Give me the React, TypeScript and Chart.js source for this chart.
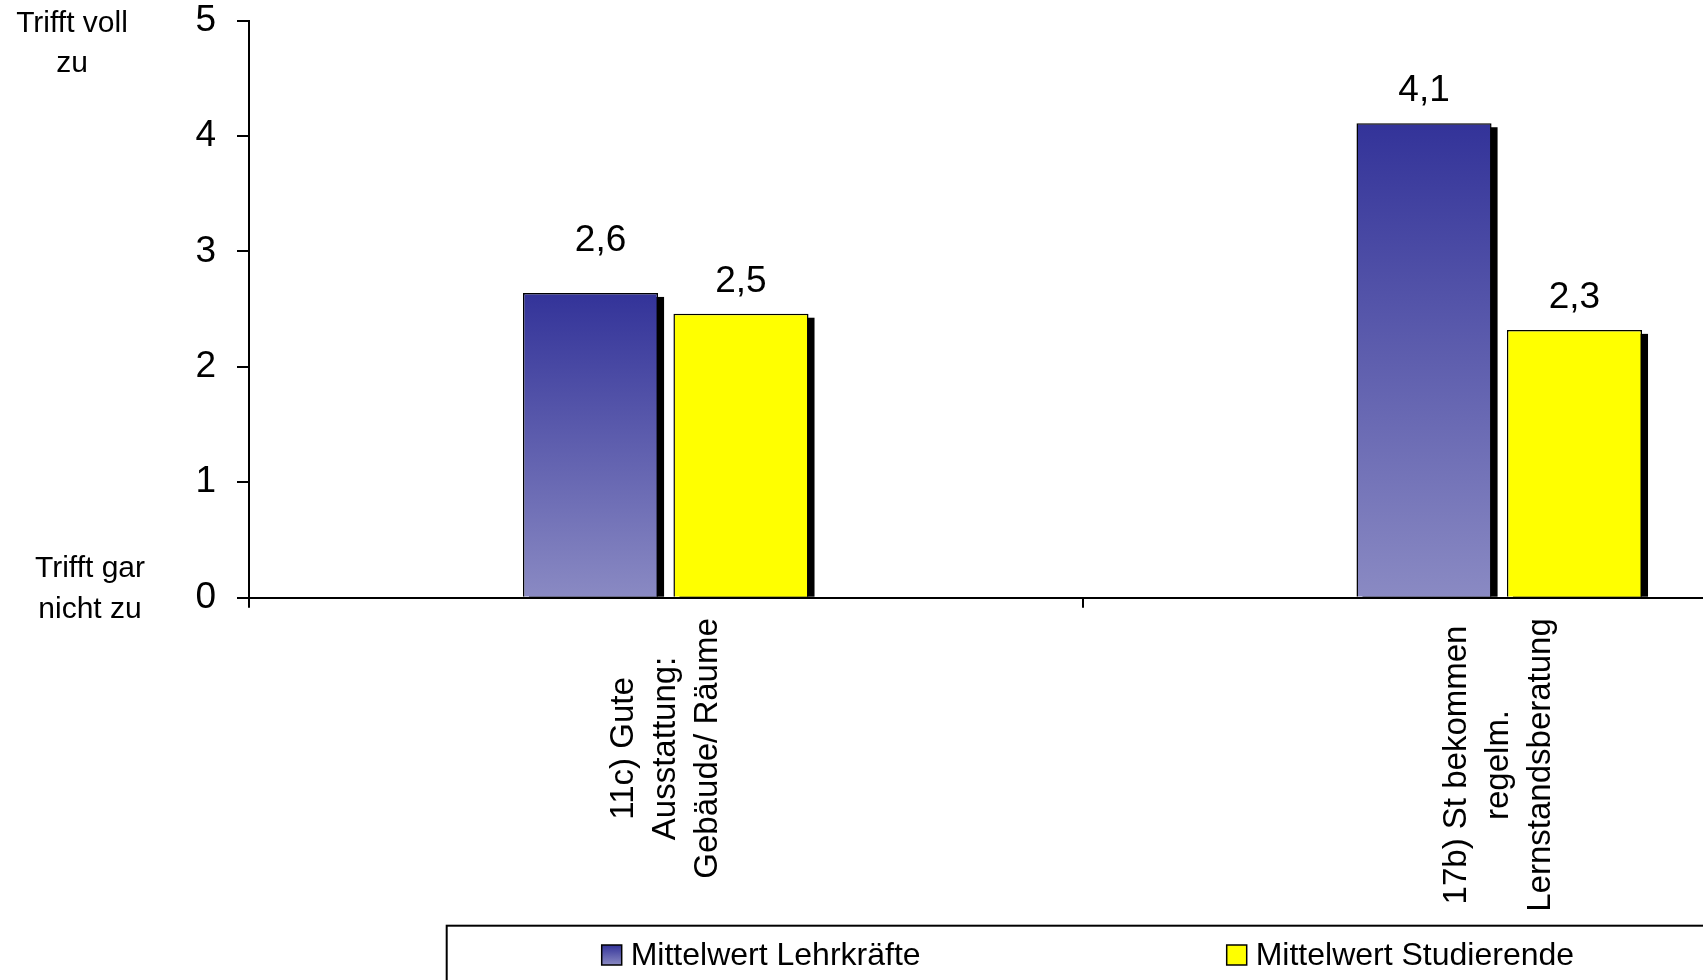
import { useEffect, useRef } from "react";
import { Chart, registerables } from "chart.js";

Chart.register(...registerables);

// ---------- data ----------
const categories: string[][] = [
  ["11c) Gute", "Ausstattung:", "Gebäude/ Räume"],
  ["17b) St bekommen", "regelm.", "Lernstandsberatung"],
];
const seriesNames = ["Mittelwert Lehrkräfte", "Mittelwert Studierende"];
const lehrkraefte = [2.64, 4.11];
const studierende = [2.46, 2.32];
const yTicks = [0, 1, 2, 3, 4, 5];
const topAxisNote = ["Trifft voll", "zu"];
const bottomAxisNote = ["Trifft gar", "nicht zu"];

// ---------- styling ----------
const FONT = '"Liberation Sans", Arial, Helvetica, sans-serif';
const W = 1916;
const H = 980;
const BLUE_TOP = "#333399";
const BLUE_BOTTOM = "#8A8AC3";
const YELLOW = "#FFFF00";
// small manual offsets for value labels [datasetIndex][index] -> [dx, dy]
const valueLabelNudge = [
  [[10, -20], [0, 0]],
  [[0, 0], [0, 0]],
];

const fmt = (v: number) => v.toFixed(1).replace(".", ",");

const decorPlugin = {
  id: "decor",
  beforeDatasetsDraw(chart: any) {
    const ctx = chart.ctx;
    ctx.save();
    ctx.fillStyle = "#000";
    chart.data.datasets.forEach((_ds: any, di: number) => {
      const meta = chart.getDatasetMeta(di);
      meta.data.forEach((bar: any) => {
        const { x, y, base, width } = bar.getProps(["x", "y", "base", "width"], true);
        ctx.fillRect(x - width / 2 + 6, y + 4, width, base - y - 4);
      });
    });
    ctx.restore();
  },
  afterDatasetsDraw(chart: any) {
    const ctx = chart.ctx;
    ctx.save();
    ctx.fillStyle = "#000";
    ctx.font = `37px ${FONT}`;
    ctx.textAlign = "center";
    ctx.textBaseline = "alphabetic";
    chart.data.datasets.forEach((ds: any, di: number) => {
      const meta = chart.getDatasetMeta(di);
      meta.data.forEach((bar: any, i: number) => {
        const { x, y } = bar.getProps(["x", "y"], true);
        const [dx, dy] = valueLabelNudge[di][i];
        ctx.fillText(fmt(ds.data[i]), x + dx, y - 22 + dy);
      });
    });
    ctx.restore();
  },
  afterDraw(chart: any) {
    const ctx = chart.ctx;
    const area = chart.chartArea;
    const xs = chart.scales.x;
    const ys = chart.scales.y;
    ctx.save();
    ctx.fillStyle = "#000";

    // category labels (rotated, lines centered)
    ctx.font = `33px ${FONT}`;
    ctx.textAlign = "center";
    ctx.textBaseline = "middle";
    const top = area.bottom + 20.5;
    const lh = 42;
    (chart.data.labels as string[][]).forEach((lines, i) => {
      const cx = xs.getPixelForValue(i);
      const maxW = Math.max(...lines.map((l) => ctx.measureText(l).width));
      ctx.save();
      ctx.translate(cx, top + maxW / 2);
      ctx.rotate(-Math.PI / 2);
      lines.forEach((l, k) => ctx.fillText(l, 0, (k - (lines.length - 1) / 2) * lh));
      ctx.restore();
    });

    // side notes on the value axis
    ctx.font = `30px ${FONT}`;
    const y5 = ys.getPixelForValue(5);
    const y0 = ys.getPixelForValue(0);
    ctx.fillText(topAxisNote[0], 72, y5 + 3);
    ctx.fillText(topAxisNote[1], 72, y5 + 43);
    ctx.fillText(bottomAxisNote[0], 90, y0 - 29);
    ctx.fillText(bottomAxisNote[1], 90, y0 + 12);

    // legend
    ctx.lineWidth = 2;
    ctx.strokeStyle = "#000";
    ctx.strokeRect(446.7, 925.7, W, 200);
    const items = [
      { x: 601.7, fill: "blue" },
      { x: 1226.7, fill: YELLOW },
    ];
    ctx.font = `32px ${FONT}`;
    ctx.textAlign = "left";
    items.forEach((it, k) => {
      const sy = 945;
      const s = 20;
      if (it.fill === "blue") {
        const g = ctx.createLinearGradient(0, sy, 0, sy + s);
        g.addColorStop(0, BLUE_TOP);
        g.addColorStop(1, BLUE_BOTTOM);
        ctx.fillStyle = g;
      } else {
        ctx.fillStyle = it.fill;
      }
      ctx.fillRect(it.x, sy, s, s);
      ctx.lineWidth = 1.5;
      ctx.strokeRect(it.x, sy, s, s);
      ctx.fillStyle = "#000";
      ctx.fillText(seriesNames[k], it.x + s + 9, sy + s / 2 + 1);
    });
    ctx.restore();
  },
};

export default function App() {
  const ref = useRef<HTMLCanvasElement | null>(null);

  useEffect(() => {
    if (!ref.current) return;
    const blueGradient = (c: any) => {
      const chart = c.chart;
      const area = chart.chartArea;
      if (!area || c.type !== "data") return BLUE_TOP;
      const top = chart.scales.y.getPixelForValue(c.raw);
      const g = chart.ctx.createLinearGradient(0, top, 0, area.bottom);
      g.addColorStop(0, BLUE_TOP);
      g.addColorStop(1, BLUE_BOTTOM);
      return g;
    };
    const chart = new Chart(ref.current, {
      type: "bar",
      data: {
        labels: categories,
        datasets: [
          {
            label: seriesNames[0],
            data: lehrkraefte,
            backgroundColor: blueGradient,
            borderColor: "#000",
            borderWidth: 1.5,
            categoryPercentage: 0.361,
            barPercentage: 0.898,
          },
          {
            label: seriesNames[1],
            data: studierende,
            backgroundColor: YELLOW,
            borderColor: "#000",
            borderWidth: 1.5,
            categoryPercentage: 0.361,
            barPercentage: 0.898,
          },
        ],
      } as any,
      options: {
        responsive: false,
        animation: false,
        devicePixelRatio: 1,
        layout: { padding: { top: 20.5, left: 0, right: 0, bottom: 0 } },
        plugins: {
          legend: { display: false },
          tooltip: { enabled: false },
          title: { display: false },
        },
        scales: {
          x: {
            z: 1,
            ticks: { display: false },
            grid: {
              display: true,
              drawOnChartArea: false,
              drawTicks: true,
              tickLength: 10,
              color: "#000",
              lineWidth: 2,
              offset: true,
            },
            border: { display: true, color: "#000", width: 2 },
            afterFit: (s: any) => {
              s.height = H - 597.7;
            },
          },
          y: {
            z: 1,
            min: 0,
            max: 5,
            afterBuildTicks: (s: any) => {
              s.ticks = yTicks.map((v) => ({ value: v }));
            },
            ticks: {
              color: "#000",
              font: { family: FONT, size: 37, lineHeight: 1 },
              padding: 21,
              callback: (v: any) => String(v),
            },
            grid: {
              drawOnChartArea: false,
              drawTicks: true,
              tickLength: 12,
              color: "#000",
              lineWidth: 2,
            },
            border: { display: true, color: "#000", width: 2 },
            afterFit: (s: any) => {
              s.width = 249;
              s.paddingTop = 10;
              s.paddingBottom = 10;
            },
          },
        },
      } as any,
      plugins: [decorPlugin],
    });
    return () => chart.destroy();
  }, []);

  return (
    <div
      style={{
        position: "fixed",
        left: 0,
        top: 0,
        width: 1703,
        height: 980,
        overflow: "hidden",
        background: "#fff",
      }}
    >
      <canvas ref={ref} width={W} height={H} style={{ display: "block", width: W, height: H }} />
    </div>
  );
}
